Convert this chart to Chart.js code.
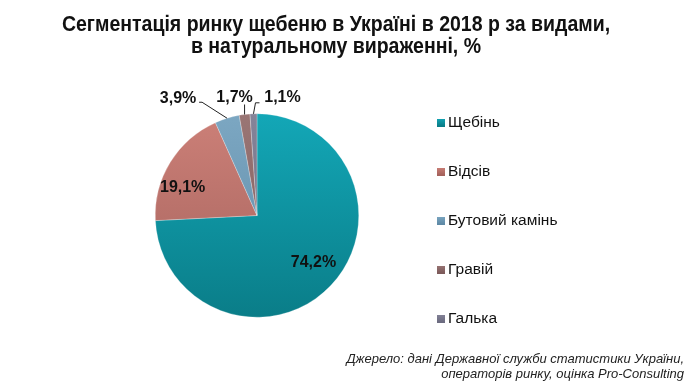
<!DOCTYPE html>
<html>
<head>
<meta charset="utf-8">
<script src="https://cdn.jsdelivr.net/npm/chart.js@4.4.1/dist/chart.umd.min.js"></script>
<style>
  html, body { margin: 0; padding: 0; background: #fff; }
  #wrap { position: relative; width: 696px; height: 384px; }
  #title {
    position: absolute; left: 0; top: 13px; width: 672px; text-align: center;
    font-family: "Liberation Sans", Arial, sans-serif;
    font-weight: bold; font-size: 22px; line-height: 22px; color: #111;
    transform: scaleX(0.887); transform-origin: 336px 0;
  }
  #source {
    position: absolute; right: 12px; top: 351px; text-align: right;
    font-family: "Liberation Sans", Arial, sans-serif; font-style: italic;
    font-size: 13px; line-height: 15px; color: #222;
  }
  canvas { position: absolute; left: 0; top: 0; }
</style>
</head>
<body>
<div id="wrap">
  <canvas id="myChart" width="696" height="384"></canvas>
  <div id="title">Сегментація ринку щебеню в Україні в 2018 р за видами,<br>в натуральному вираженні, %</div>
  <div id="source">Джерело: дані Державної служби статистики України,<br>операторів ринку, оцінка Pro-Consulting</div>
</div>
<script>
const labels = ["Щебінь", "Відсів", "Бутовий камінь", "Гравій", "Галька"];
const shares = [74.2, 19.1, 3.9, 1.7, 1.1];
const topColors = ["#13a7b7", "#cc8078", "#7ca7c2", "#9a7675", "#858499"];
const bottomColors = ["#0a7d88", "#a5625c", "#5f8aa6", "#7c5a5a", "#6c6b80"];

// inside labels: radius fraction and angle shift (deg) from slice middle
const inside = [{ r: 0.72, a: -4 }, { r: 0.78, a: -11 }, null, null, null];
// outside labels: offset of text centre from the slice edge
const outside = [null, null, { dx: -49, dy: -20 }, { dx: -10, dy: -17 }, { dx: 29, dy: -16 }];

const fmt = v => v.toFixed(1).replace(".", ",") + "%";

const labelPlugin = {
  id: "sliceLabels",
  afterDatasetsDraw(chart) {
    const ctx = chart.ctx;
    const arcs = chart.getDatasetMeta(0).data;
    ctx.save();
    ctx.font = "bold 16px 'Liberation Sans', Arial, sans-serif";
    ctx.fillStyle = "#111";
    ctx.textAlign = "center";
    ctx.textBaseline = "middle";
    arcs.forEach((arc, i) => {
      const mid = (arc.startAngle + arc.endAngle) / 2;
      if (inside[i]) {
        const r = arc.outerRadius * inside[i].r;
        const a = mid + inside[i].a * Math.PI / 180;
        ctx.fillText(fmt(shares[i]), arc.x + Math.cos(a) * r, arc.y + Math.sin(a) * r);
        return;
      }
      const ex = arc.x + Math.cos(mid) * arc.outerRadius;
      const ey = arc.y + Math.sin(mid) * arc.outerRadius;
      const tx = ex + outside[i].dx, ty = ey + outside[i].dy;
      ctx.strokeStyle = "#222";
      ctx.lineWidth = 1;
      ctx.beginPath();
      if (i === 2) {
        ctx.moveTo(ex, ey);
        ctx.lineTo(tx + 24, ty + 4);
        ctx.lineTo(tx + 21, ty + 4);
      } else if (i === 3) {
        ctx.moveTo(ex, ey);
        ctx.lineTo(ex, ty + 7);
      } else {
        ctx.moveTo(ex, ey);
        ctx.lineTo(ex + 2, ty + 5);
        ctx.lineTo(ex + 6, ty + 5);
      }
      ctx.stroke();
      ctx.fillText(fmt(shares[i]), tx, ty);
    });
    ctx.restore();
  }
};

const legendPlugin = {
  id: "sideLegend",
  afterDraw(chart) {
    const ctx = chart.ctx;
    ctx.save();
    ctx.font = "15.5px 'Liberation Sans', Arial, sans-serif";
    ctx.textBaseline = "middle";
    labels.forEach((name, i) => {
      const y = 122 + i * 49;
      const g = ctx.createLinearGradient(0, y - 4, 0, y + 4);
      g.addColorStop(0, topColors[i]);
      g.addColorStop(1, bottomColors[i]);
      ctx.fillStyle = g;
      ctx.fillRect(437, y - 3, 8, 8);
      ctx.fillStyle = "#111";
      ctx.fillText(name, 448, y + 1);
    });
    ctx.restore();
  }
};

new Chart(document.getElementById("myChart"), {
  type: "pie",
  data: {
    labels: labels,
    datasets: [{
      data: shares,
      backgroundColor: (c) => {
        const area = c.chart.chartArea;
        if (!area) return topColors[c.dataIndex];
        const g = c.chart.ctx.createLinearGradient(0, area.top, 0, area.bottom);
        g.addColorStop(0, topColors[c.dataIndex]);
        g.addColorStop(1, bottomColors[c.dataIndex]);
        return g;
      },
      borderColor: "rgba(255,255,255,0.5)",
      borderWidth: 0.5
    }]
  },
  options: {
    responsive: false,
    animation: false,
    layout: { padding: { left: 155, right: 337, top: 113, bottom: 66 } },
    plugins: {
      legend: { display: false },
      tooltip: { enabled: false }
    }
  },
  plugins: [labelPlugin, legendPlugin]
});
</script>
</body>
</html>
